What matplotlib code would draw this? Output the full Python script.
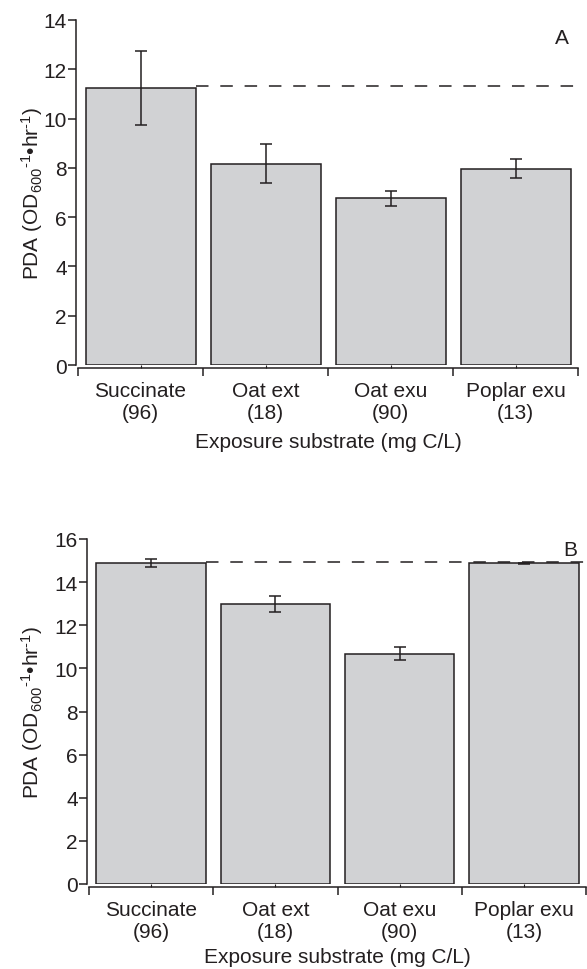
import matplotlib
matplotlib.use("Agg")
import matplotlib.pyplot as plt
import matplotlib.transforms as mtransforms
import numpy as np

plt.rcParams['font.family'] = ['Liberation Sans', 'DejaVu Sans']
plt.rcParams['mathtext.fontset'] = 'custom'
plt.rcParams['mathtext.rm'] = 'Liberation Sans'
plt.rcParams['mathtext.it'] = 'Liberation Sans'
plt.rcParams['lines.scale_dashes'] = False

# data
substrates = ["Succinate\n(96)", "Oat ext\n(18)", "Oat exu\n(90)", "Poplar exu\n(13)"]

pda_a = [11.25, 8.17, 6.76, 7.97]
err_a = [1.50, 0.80, 0.30, 0.40]
ref_a = 11.32

pda_b = [14.88, 12.98, 10.68, 14.88]
err_b = [0.19, 0.38, 0.29, 0.03]
ref_b = 14.93

BAR = "#d1d2d4"
INK = "#231f20"
FS = 15


def draw_panel(fig, ax, vals, errs, ref, ymax, letter, letter_y, xlabelpad):
    x = np.arange(len(vals))
    ax.bar(x, vals, width=0.88, color=BAR, edgecolor=INK, linewidth=1.1, zorder=2)
    ax.errorbar(x, vals, yerr=errs, fmt="none", ecolor=INK, elinewidth=1.1,
                capsize=4, capthick=1.1, zorder=3)
    ax.plot([0.44, 3.49], [ref, ref], color=INK, linewidth=1.1,
            linestyle=(0, (9, 8.5)), zorder=1)
    ax.text(3.37, letter_y, letter, fontsize=FS, color=INK, ha="center", va="center")

    ax.set_xlim(-0.5, 3.5)
    ax.set_ylim(0, ymax)
    ax.set_yticks(np.arange(0, ymax + 1, 2))
    ax.set_xticks(np.arange(-0.5, 4, 1))
    ax.set_xticklabels([])
    ax.set_xticks(x, minor=True)
    ax.set_xticklabels(substrates, minor=True, linespacing=1.12)

    ax.spines["top"].set_visible(False)
    ax.spines["right"].set_visible(False)
    ax.spines["left"].set_position(("outward", 1.5))
    ax.spines["bottom"].set_position(("outward", 2.5))
    for s in ("left", "bottom"):
        ax.spines[s].set_linewidth(1.1)
        ax.spines[s].set_color(INK)

    ax.tick_params(axis="y", direction="out", length=5.5, width=1.1, colors=INK,
                   labelsize=FS, pad=1)
    ax.tick_params(axis="x", which="major", direction="out", length=6, width=1.1, colors=INK)
    ax.tick_params(axis="x", which="minor", direction="in", length=2, width=0.8,
                   colors=INK, labelsize=FS, pad=9)

    ax.set_ylabel(r"PDA (OD$_{600}$$^{\text{-}1}$•hr$^{\text{-}1}$)", fontsize=FS, color=INK)
    # both y labels sit at the same page position
    ax.yaxis.set_label_coords(
        0.076, 0.5, transform=mtransforms.blended_transform_factory(fig.transFigure, ax.transAxes))
    ax.set_xlabel("Exposure substrate (mg C/L)", fontsize=FS, color=INK, labelpad=xlabelpad)


fig = plt.figure(figsize=(5.87, 9.70), dpi=100)
ax_a = fig.add_axes([78 / 587, 1 - 366 / 970, 500 / 587, 345 / 970])
ax_b = fig.add_axes([89 / 587, 1 - 885 / 970, 497 / 587, 345 / 970])

draw_panel(fig, ax_a, pda_a, err_a, ref_a, 14, "A", 13.27, 7)
draw_panel(fig, ax_b, pda_b, err_b, ref_b, 16, "B", 15.49, 4)

fig.savefig("out.png", dpi=100)
